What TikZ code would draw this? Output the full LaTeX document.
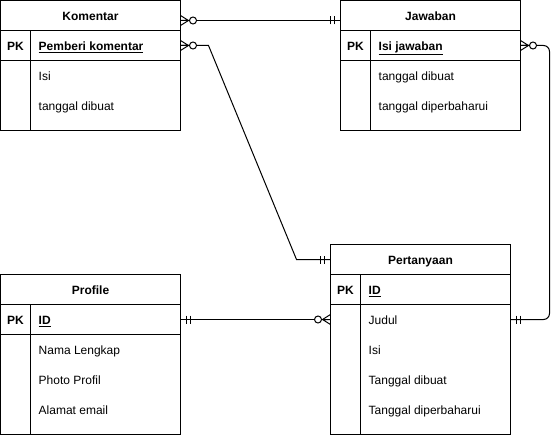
\documentclass[tikz,border=0pt]{standalone}
\usepackage{fontspec}
\setmainfont{Liberation Sans}
\usetikzlibrary{calc,positioning}
\definecolor{ink}{HTML}{000000}
\definecolor{paper}{HTML}{FFFFFF}
\tikzset{
  tblrow/.style={draw=ink,line width=1pt,minimum width=180pt,minimum height=30pt,inner sep=0pt,outer sep=0pt,
    text height=10pt,text depth=0pt,font=\fontsize{12}{14}\selectfont\bfseries},
  pklabel/.style={anchor=base,inner sep=0pt,font=\fontsize{12}{14}\selectfont\bfseries},
  keyattr/.style={anchor=base west,inner sep=0pt,font=\fontsize{12}{14}\selectfont\bfseries},
  attr/.style={anchor=base west,inner sep=0pt,font=\fontsize{12}{14}\selectfont},
  erline/.style={draw=ink,line width=1pt},
  pics/mandone/.style={code={\draw[erline] (6,-4) -- (6,4) (10,-4) -- (10,4);}},
  pics/zeromany/.style={code={\draw[erline] (0,-5) -- (8,0) -- (0,5) (0,0) -- (9,0);
      \draw[erline,fill=paper] (12.5,0) circle (3.5pt);}}
}
\begin{document}
\begin{tikzpicture}[x=1pt,y=-1pt]
  \useasboundingbox[fill=paper] (0,0) rectangle (560,436);
  % Komentar
  \node[tblrow,anchor=north west] (kom) at (0.5,0.5) {Komentar};
  \node[tblrow,below=0pt of kom] (komPK) {};
  \node[tblrow,minimum height=70pt,below=0pt of komPK] (komB) {};
  \draw[erline] ([xshift=30pt]komPK.north west) -- ([xshift=30pt]komB.south west);
  \node[pklabel] (komPKl) at ([xshift=15pt,yshift=-5pt]komPK.west) {PK};
  \node[keyattr] (komKey) at ([xshift=38pt,yshift=-5pt]komPK.west) {\underline{Pemberi komentar}};
  \node[attr] (komA1) at ([xshift=38pt,yshift=-20pt]komB.north west) {Isi};
  \node[attr] (komA2) at ([xshift=38pt,yshift=-50pt]komB.north west) {tanggal dibuat};

  % Jawaban
  \node[tblrow,anchor=north west] (jaw) at (340.5,0.5) {Jawaban};
  \node[tblrow,below=0pt of jaw] (jawPK) {};
  \node[tblrow,minimum height=70pt,below=0pt of jawPK] (jawB) {};
  \draw[erline] ([xshift=30pt]jawPK.north west) -- ([xshift=30pt]jawB.south west);
  \node[pklabel] (jawPKl) at ([xshift=15pt,yshift=-5pt]jawPK.west) {PK};
  \node[keyattr] (jawKey) at ([xshift=38pt,yshift=-5pt]jawPK.west) {\underline{Isi jawaban}};
  \node[attr] (jawA1) at ([xshift=38pt,yshift=-20pt]jawB.north west) {tanggal dibuat};
  \node[attr] (jawA2) at ([xshift=38pt,yshift=-50pt]jawB.north west) {tanggal diperbaharui};

  % Pertanyaan
  \node[tblrow,anchor=north west] (per) at (330.5,244.5) {Pertanyaan};
  \node[tblrow,below=0pt of per] (perPK) {};
  \node[tblrow,minimum height=130pt,below=0pt of perPK] (perB) {};
  \draw[erline] ([xshift=30pt]perPK.north west) -- ([xshift=30pt]perB.south west);
  \node[pklabel] (perPKl) at ([xshift=15pt,yshift=-5pt]perPK.west) {PK};
  \node[keyattr] (perKey) at ([xshift=38pt,yshift=-5pt]perPK.west) {\underline{ID}};
  \node[attr] (perA1) at ([xshift=38pt,yshift=-20pt]perB.north west) {Judul};
  \node[attr] (perA2) at ([xshift=38pt,yshift=-50pt]perB.north west) {Isi};
  \node[attr] (perA3) at ([xshift=38pt,yshift=-80pt]perB.north west) {Tanggal dibuat};
  \node[attr] (perA4) at ([xshift=38pt,yshift=-110pt]perB.north west) {Tanggal diperbaharui};

  % Profile
  \node[tblrow,anchor=north west] (pro) at (0.5,274.5) {Profile};
  \node[tblrow,below=0pt of pro] (proPK) {};
  \node[tblrow,minimum height=100pt,below=0pt of proPK] (proB) {};
  \draw[erline] ([xshift=30pt]proPK.north west) -- ([xshift=30pt]proB.south west);
  \node[pklabel] (proPKl) at ([xshift=15pt,yshift=-5pt]proPK.west) {PK};
  \node[keyattr] (proKey) at ([xshift=38pt,yshift=-5pt]proPK.west) {\underline{ID}};
  \node[attr] (proA1) at ([xshift=38pt,yshift=-20pt]proB.north west) {Nama Lengkap};
  \node[attr] (proA2) at ([xshift=38pt,yshift=-50pt]proB.north west) {Photo Profil};
  \node[attr] (proA3) at ([xshift=38pt,yshift=-80pt]proB.north west) {Alamat email};

  % relations
  \draw[erline] ([yshift=-5pt]kom.east) -- ([yshift=-5pt]jaw.west);
  \draw[erline] (komPK.east) -- ++(28,0) -- ($(per.west)+(-34,0)$) -- (per.west);
  \draw[erline,rounded corners=6pt] (jawPK.east) -- ++(29,0) |- ([yshift=-15pt]perB.north east);
  \draw[erline] (proPK.east) -- ([yshift=-15pt]perB.north west);

  \pic at ([yshift=-5pt]kom.east) {zeromany};
  \pic[rotate=180] at ([yshift=-5pt]jaw.west) {mandone};
  \pic at (komPK.east) {zeromany};
  \pic[rotate=180] at (per.west) {mandone};
  \pic at (jawPK.east) {zeromany};
  \pic at ([yshift=-15pt]perB.north east) {mandone};
  \pic at (proPK.east) {mandone};
  \pic[rotate=180] at ([yshift=-15pt]perB.north west) {zeromany};
\end{tikzpicture}
\end{document}
